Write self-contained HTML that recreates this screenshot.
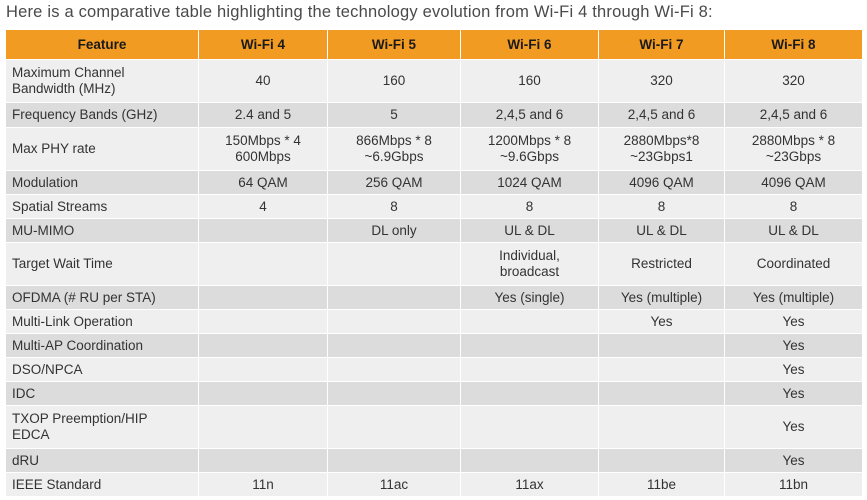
<!DOCTYPE html>
<html><head><meta charset="utf-8"><style>
body{margin:0;width:867px;height:500px;background:#fff;font-family:"Liberation Sans",sans-serif;overflow:hidden;position:relative}
.t{position:absolute;left:6px;top:3px;font-size:16.5px;letter-spacing:0.2px;color:#4a4a4a;white-space:nowrap}
table{position:absolute;left:5px;top:29px;border-collapse:collapse;table-layout:fixed;font-size:13.5px;color:#333}
td,th{border:1px solid #fff;padding:0;text-align:center;line-height:16px}
th{background:#f29b22;color:#1a1a1a;font-size:13.5px;height:29px}
td:first-child{text-align:left;padding-left:6px}
tr:nth-child(even) td{background:#efefef}
tr:nth-child(odd) td{background:#dcdcdc}
</style></head><body>
<div class="t">Here is a comparative table highlighting the technology evolution from Wi-Fi 4 through Wi-Fi 8:</div>
<table>
<colgroup><col style="width:193px"><col style="width:129px"><col style="width:133px"><col style="width:138px"><col style="width:126px"><col style="width:138px"></colgroup>
<tr><th>Feature</th><th>Wi-Fi 4</th><th>Wi-Fi 5</th><th>Wi-Fi 6</th><th>Wi-Fi 7</th><th>Wi-Fi 8</th></tr>
<tr style="height:43px"><td>Maximum Channel<br>Bandwidth (MHz)</td><td>40</td><td>160</td><td>160</td><td>320</td><td>320</td></tr>
<tr style="height:25px"><td>Frequency Bands (GHz)</td><td>2.4 and 5</td><td>5</td><td>2,4,5 and 6</td><td>2,4,5 and 6</td><td>2,4,5 and 6</td></tr>
<tr style="height:43px"><td>Max PHY rate</td><td>150Mbps * 4<br>600Mbps</td><td>866Mbps * 8<br>~6.9Gbps</td><td>1200Mbps * 8<br>~9.6Gbps</td><td>2880Mbps*8<br>~23Gbps1</td><td>2880Mbps * 8<br>~23Gbps</td></tr>
<tr style="height:24px"><td>Modulation</td><td>64 QAM</td><td>256 QAM</td><td>1024 QAM</td><td>4096 QAM</td><td>4096 QAM</td></tr>
<tr style="height:24px"><td>Spatial Streams</td><td>4</td><td>8</td><td>8</td><td>8</td><td>8</td></tr>
<tr style="height:24px"><td>MU-MIMO</td><td></td><td>DL only</td><td>UL &amp; DL</td><td>UL &amp; DL</td><td>UL &amp; DL</td></tr>
<tr style="height:43px"><td>Target Wait Time</td><td></td><td></td><td>Individual,<br>broadcast</td><td>Restricted</td><td>Coordinated</td></tr>
<tr style="height:24px"><td>OFDMA (# RU per STA)</td><td></td><td></td><td>Yes (single)</td><td>Yes (multiple)</td><td>Yes (multiple)</td></tr>
<tr style="height:24px"><td>Multi-Link Operation</td><td></td><td></td><td></td><td>Yes</td><td>Yes</td></tr>
<tr style="height:24px"><td>Multi-AP Coordination</td><td></td><td></td><td></td><td></td><td>Yes</td></tr>
<tr style="height:24px"><td>DSO/NPCA</td><td></td><td></td><td></td><td></td><td>Yes</td></tr>
<tr style="height:24px"><td>IDC</td><td></td><td></td><td></td><td></td><td>Yes</td></tr>
<tr style="height:43px"><td>TXOP Preemption/HIP<br>EDCA</td><td></td><td></td><td></td><td></td><td>Yes</td></tr>
<tr style="height:24px"><td>dRU</td><td></td><td></td><td></td><td></td><td>Yes</td></tr>
<tr style="height:24px"><td>IEEE Standard</td><td>11n</td><td>11ac</td><td>11ax</td><td>11be</td><td>11bn</td></tr>
</table>
</body></html>
